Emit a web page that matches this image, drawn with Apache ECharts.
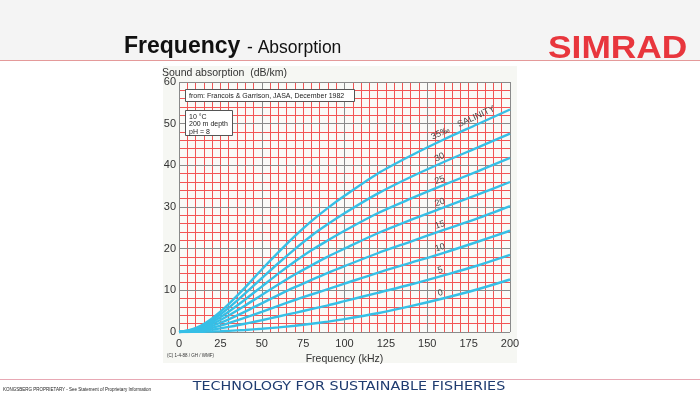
<!DOCTYPE html>
<html>
<head>
<meta charset="utf-8">
<script src="https://cdn.jsdelivr.net/npm/echarts@6/dist/echarts.min.js"></script>
<style>
html, body { margin: 0; padding: 0; background: #fff; }
#main { width: 700px; height: 399px; }
</style>
</head>
<body>
<div id="main"></div>
<script>
// frequency (kHz) and absorption (dB/km), one array per salinity
var freq = [0, 5, 10, 15, 20, 25, 30, 40, 50, 60, 70, 80, 90, 100, 120, 140, 160, 180, 200];
var absS0  = [0, 0.01, 0.03, 0.07, 0.12, 0.19, 0.28, 0.49, 0.77, 1.11, 1.51, 1.97, 2.5, 3.1, 4.5, 6.2, 8.1, 10.2, 12.6];
var absS5  = [0, 0.08, 0.19, 0.36, 0.59, 0.88, 1.22, 1.97, 2.82, 3.71, 4.6, 5.5, 6.4, 7.4, 9.4, 11.4, 13.6, 15.9, 18.5];
var absS10 = [0, 0.13, 0.32, 0.63, 1.04, 1.55, 2.13, 3.44, 4.85, 6.28, 7.68, 9.0, 10.3, 11.6, 14.2, 16.6, 19.0, 21.6, 24.3];
var absS15 = [0, 0.18, 0.45, 0.9, 1.49, 2.22, 3.05, 4.9, 6.88, 8.86, 10.75, 12.5, 14.2, 15.8, 18.9, 21.7, 24.5, 27.2, 30.2];
var absS20 = [0, 0.21, 0.57, 1.16, 1.93, 2.88, 3.96, 6.36, 8.9, 11.4, 13.8, 16.0, 18.1, 20.0, 23.7, 26.9, 29.9, 32.9, 36.0];
var absS25 = [0, 0.25, 0.7, 1.42, 2.38, 3.54, 4.87, 7.81, 10.9, 14.0, 16.9, 19.6, 22.0, 24.3, 28.5, 32.0, 35.3, 38.5, 41.8];
var absS30 = [0, 0.29, 0.82, 1.68, 2.82, 4.2, 5.77, 9.26, 12.9, 16.5, 19.9, 23.1, 25.9, 28.5, 33.2, 37.2, 40.8, 44.2, 47.6];
var absS35 = [0, 0.32, 0.94, 1.94, 3.26, 4.86, 6.68, 10.7, 15.0, 19.1, 23.0, 26.6, 29.8, 32.7, 38.0, 42.3, 46.2, 49.8, 53.4];
var salinityLabels = ['0', '5', '10', '15', '20', '25', '30', '35‰    SALINITY'];
var labelFreq = 160;

var curves = [
  { data: absS0,  rot: 14 },
  { data: absS5,  rot: 16 },
  { data: absS10, rot: 17 },
  { data: absS15, rot: 19 },
  { data: absS20, rot: 20 },
  { data: absS25, rot: 22 },
  { data: absS30, rot: 24 },
  { data: absS35, rot: 25 }
];

var li = freq.indexOf(labelFreq);
var font = 'Liberation Sans, Arial, sans-serif';
var red = '#f25555', grey = '#8a8a8a';

var myChart = echarts.init(document.getElementById('main'));

var series = curves.map(function (c, k) {
  var last = k === curves.length - 1;
  return {
    type: 'line',
    name: salinityLabels[k],
    data: freq.map(function (f, i) { return [f, c.data[i]]; }),
    smooth: 0.3,
    symbol: 'none',
    lineStyle: { color: '#36bfe6', width: 2.4 },
    z: 5,
    markPoint: {
      symbol: 'circle',
      symbolSize: 0,
      silent: true,
      data: [{
        coord: [labelFreq, c.data[li]],
        label: {
          show: true,
          formatter: salinityLabels[k],
          rotate: c.rot,
          position: 'inside',
          align: last ? 'left' : 'center',
          offset: last ? [-10, -7] : [-2, -6],
          color: '#444',
          fontSize: 9,
          fontFamily: font
        }
      }]
    }
  };
});

// fine red grid on the labelled axes, coarse grey grid on the twin axes drawn above
var fineX = {
  type: 'value', min: 0, max: 200, interval: 5, position: 'bottom', z: 0,
  name: 'Frequency (kHz)', nameLocation: 'middle', nameGap: 20,
  nameTextStyle: { color: '#333', fontSize: 10.5, fontFamily: font },
  axisLine: { show: false }, axisTick: { show: false },
  axisLabel: {
    color: '#333', fontSize: 11, fontFamily: font, margin: 6,
    formatter: function (v) { return v % 25 === 0 ? String(v) : ''; }
  },
  splitLine: { show: true, lineStyle: { color: red, width: 1 } }
};
var coarseX = {
  type: 'value', min: 0, max: 200, interval: 50, position: 'top', z: 1,
  axisLine: { show: false }, axisTick: { show: false }, axisLabel: { show: false },
  splitLine: { show: true, lineStyle: { color: grey, width: 1 } }
};
var fineY = {
  type: 'value', min: 0, max: 60, interval: 2, position: 'left', z: 0,
  axisLine: { show: false }, axisTick: { show: false },
  axisLabel: {
    color: '#333', fontSize: 11, fontFamily: font, margin: 3,
    formatter: function (v) { return v % 10 === 0 ? String(v) : ''; }
  },
  splitLine: { show: true, lineStyle: { color: red, width: 1 } }
};
var coarseY = {
  type: 'value', min: 0, max: 60, interval: 10, position: 'right', z: 1,
  axisLine: { show: false }, axisTick: { show: false }, axisLabel: { show: false },
  splitLine: { show: true, lineStyle: { color: grey, width: 1 } }
};

myChart.setOption({
  backgroundColor: '#ffffff',
  animation: false,
  grid: {
    left: 179, top: 82, width: 331, height: 250,
    show: true, backgroundColor: '#fafaf7', borderWidth: 0
  },
  xAxis: [fineX, coarseX],
  yAxis: [fineY, coarseY],
  series: series,
  graphic: [
    // slide header band
    { type: 'rect', z: -10, shape: { x: 0, y: 0, width: 700, height: 60 }, style: { fill: '#f4f4f4' } },
    { type: 'line', z: -9, shape: { x1: 0, y1: 60.5, x2: 700, y2: 60.5 }, style: { stroke: '#e49a9a', lineWidth: 1 } },
    { type: 'text', z: 10, x: 124, y: 47, style: { text: 'Frequency', fill: '#111', font: 'bold 23px ' + font, verticalAlign: 'middle' } },
    { type: 'text', z: 10, x: 247, y: 48, style: { text: '- Absorption', fill: '#111', font: '17.5px ' + font, verticalAlign: 'middle' } },
    { type: 'text', z: 10, x: 548, y: 49, scaleX: 1.14, style: { text: 'SIMRAD', fill: '#e8363d', font: '900 31px ' + font, verticalAlign: 'middle' } },
    // chart picture background
    { type: 'rect', z: -10, shape: { x: 163, y: 66, width: 354, height: 297 }, style: { fill: '#f6f7f3' } },
    { type: 'text', z: 10, x: 162, y: 73, style: { text: 'Sound absorption  (dB/km)', fill: '#333', font: '10.5px ' + font, verticalAlign: 'middle' } },
    { type: 'text', z: 10, x: 167, y: 356, style: { text: '(C) 1-4-88 / GH / WMF)', fill: '#333', font: '4.5px ' + font, verticalAlign: 'middle' } },
    // annotation boxes
    { type: 'rect', z: 10, shape: { x: 185.5, y: 89.5, width: 169, height: 12 }, style: { fill: '#fff', stroke: '#555', lineWidth: 1 } },
    { type: 'text', z: 11, x: 189, y: 96, style: { text: 'from: Francois & Garrison, JASA, December 1982', fill: '#222', font: '7px ' + font, verticalAlign: 'middle' } },
    { type: 'rect', z: 10, shape: { x: 185.5, y: 110.5, width: 47, height: 25 }, style: { fill: '#fff', stroke: '#555', lineWidth: 1 } },
    { type: 'text', z: 11, x: 189, y: 113, style: { text: '10 °C\n200 m depth\npH = 8', fill: '#222', font: '7px ' + font, lineHeight: 7.5, verticalAlign: 'top' } },
    // footer
    { type: 'line', z: -9, shape: { x1: 0, y1: 379.5, x2: 700, y2: 379.5 }, style: { stroke: '#e8a8b4', lineWidth: 1 } },
    { type: 'text', z: 10, x: 349, y: 387, scaleX: 1.1, style: { text: 'TECHNOLOGY FOR SUSTAINABLE FISHERIES', fill: '#1f3c70', font: '13px DejaVu Sans, sans-serif', align: 'center', verticalAlign: 'middle' } },
    { type: 'text', z: 10, x: 3, y: 390, style: { text: 'KONGSBERG PROPRIETARY - See Statement of Proprietary Information', fill: '#222', font: '4.5px ' + font, verticalAlign: 'middle' } }
  ]
});
</script>
</body>
</html>
